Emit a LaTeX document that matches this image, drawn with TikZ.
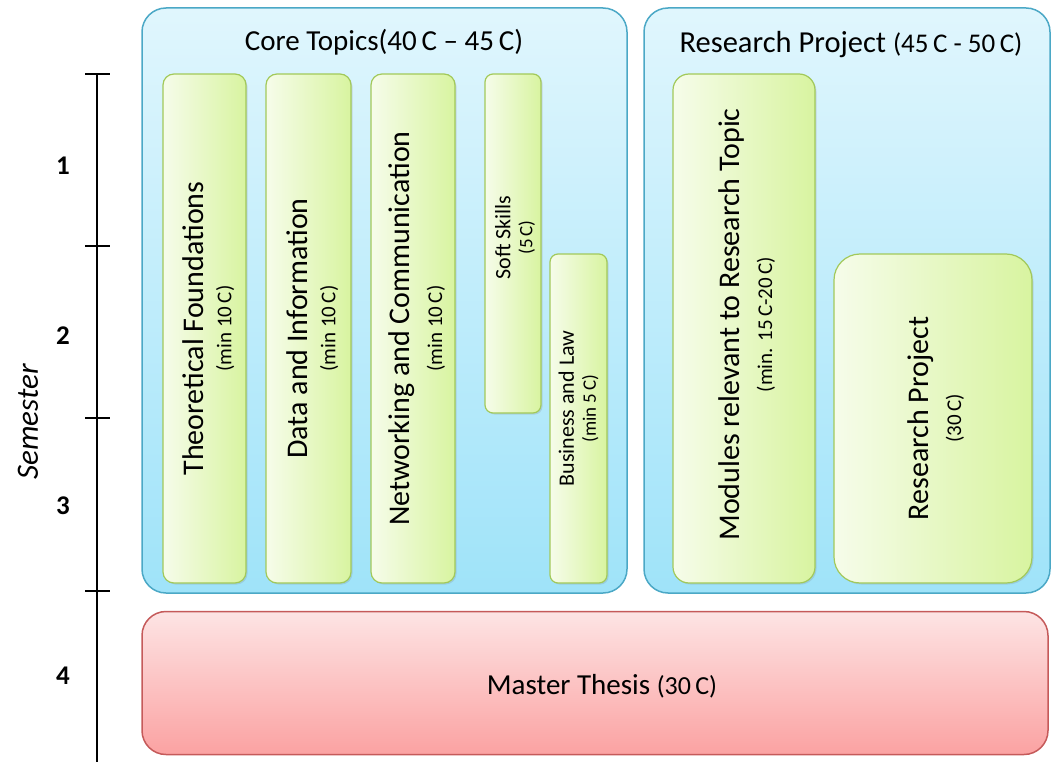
\documentclass[tikz,border=0pt]{standalone}
\usepackage{fontspec}
\setmainfont{Carlito}
\usetikzlibrary{shadows}
\definecolor{bluetop}{HTML}{E0F6FD}
\definecolor{bluebot}{HTML}{9FE3F9}
\definecolor{bluebd}{HTML}{4BA8C6}
\definecolor{greenL}{HTML}{F6FCEA}
\definecolor{greenR}{HTML}{D8F4A0}
\definecolor{greenbd}{HTML}{A2C95A}
\definecolor{redtop}{HTML}{FDE4E4}
\definecolor{redbot}{HTML}{FBA2A2}
\definecolor{redbd}{HTML}{C55A5A}
\newcommand{\bigf}{\fontsize{30}{31}\selectfont}
\newcommand{\subf}{\fontsize{21}{27}\selectfont}
\newcommand{\smf}{\fontsize{22}{24}\selectfont}
\newcommand{\smsubf}{\fontsize{19}{22}\selectfont}
\begin{document}
\begin{tikzpicture}[x=1pt,y=-1pt,
  every node/.style={inner sep=0pt, outer sep=0pt},
  bluebox/.style={draw=bluebd, line width=1.5pt, rounded corners=24pt, top color=bluetop, bottom color=bluebot},
  redbox/.style={draw=redbd, line width=1.5pt, rounded corners=24pt, top color=redtop, bottom color=redbot},
  greenbox/.style={draw=greenbd, line width=1.2pt, left color=greenL, right color=greenR,
    drop shadow={opacity=0.22, shadow xshift=1.5pt, shadow yshift=-1.5pt}},
  vlabel/.style={rotate=90, align=center, text=black},
  axisline/.style={line width=1.8pt, black},
  semnum/.style={font=\fontsize{27}{28}\selectfont\bfseries}
]
\useasboundingbox (0,0) rectangle (1052,762);

% group boxes
\node[bluebox, minimum width=485pt, minimum height=585pt] (core) at (384.5,300.5) {};
\node[bluebox, minimum width=406pt, minimum height=585pt] (rp) at (847,300.5) {};
\node[redbox, minimum width=906pt, minimum height=143pt] (mt) at (595,683) {};

\node (coretitle) at (384,42) {\fontsize{29}{31}\selectfont Core Topics(40\,C -- 45\,C)};
\node (rptitle) at (851,45) {\fontsize{30.5}{32}\selectfont Research Project {\fontsize{27}{29}\selectfont(45\,C - 50\,C)}};
\node (mttext) at (602,686) {\fontsize{29}{31}\selectfont Master Thesis {\fontsize{26}{28}\selectfont(30\,C)}};

% module boxes
\node[greenbox, rounded corners=11pt, minimum width=83pt, minimum height=509pt] (tf) at (204.5,328.5) {};
\node[vlabel] at ([xshift=4pt]tf.center) {\bigf Theoretical Foundations\\[11pt]\subf (min 10\,C)};

\node[greenbox, rounded corners=11pt, minimum width=85pt, minimum height=509pt] (di) at (308.5,328.5) {};
\node[vlabel] at ([xshift=4pt]di.center) {\bigf Data and Information\\[11pt]\subf (min 10\,C)};

\node[greenbox, rounded corners=11pt, minimum width=84pt, minimum height=509pt] (nc) at (413,328.5) {};
\node[vlabel] at ([xshift=4pt]nc.center) {\bigf Networking and Communication\\[11pt]\subf (min 10\,C)};

\node[greenbox, rounded corners=8pt, minimum width=56pt, minimum height=339pt] (ss) at (513,243.5) {};
\node[vlabel] at ([xshift=2pt,yshift=6pt]ss.center) {\smf Soft Skills\\[7pt]\smsubf (5\,C)};

\node[greenbox, rounded corners=8pt, minimum width=57pt, minimum height=329pt] (bl) at (578.5,418.5) {};
\node[vlabel] at ([yshift=10pt]bl.center) {\smf Business and Law\\[7pt]\smsubf (min 5\,C)};

\node[greenbox, rounded corners=16pt, minimum width=142pt, minimum height=509pt] (mod) at (744,328.5) {};
\node[vlabel] at ([xshift=3pt,yshift=4pt]mod.center) {\bigf Modules relevant to Research Topic\\[11pt]\subf (min. 15\,C-20\,C)};

\node[greenbox, rounded corners=26pt, minimum width=198pt, minimum height=329pt] (rpb) at (933,418.5) {};
\node[vlabel] at ([xshift=3pt]rpb.center) {\bigf Research Project\\[11pt]\subf (30\,C)};

% semester axis
\coordinate (a0) at (97,74);
\coordinate (a1) at (97,246);
\coordinate (a2) at (97,418);
\coordinate (a3) at (97,591);
\coordinate (aend) at (97,762);
\draw[axisline] (a0) -- (aend);
\foreach \c in {a0,a1,a2,a3}{
  \draw[axisline] ([xshift=-12pt]\c) -- ([xshift=13pt]\c);
}
\node[semnum] (s1) at (63,166) {1};
\node[semnum] (s2) at (63,336) {2};
\node[semnum] (s3) at (63,506) {3};
\node[semnum] (s4) at (63,676) {4};
\node[rotate=90] (sem) at (28,422) {\fontsize{31}{32}\selectfont\itshape Semester};
\end{tikzpicture}
\end{document}
